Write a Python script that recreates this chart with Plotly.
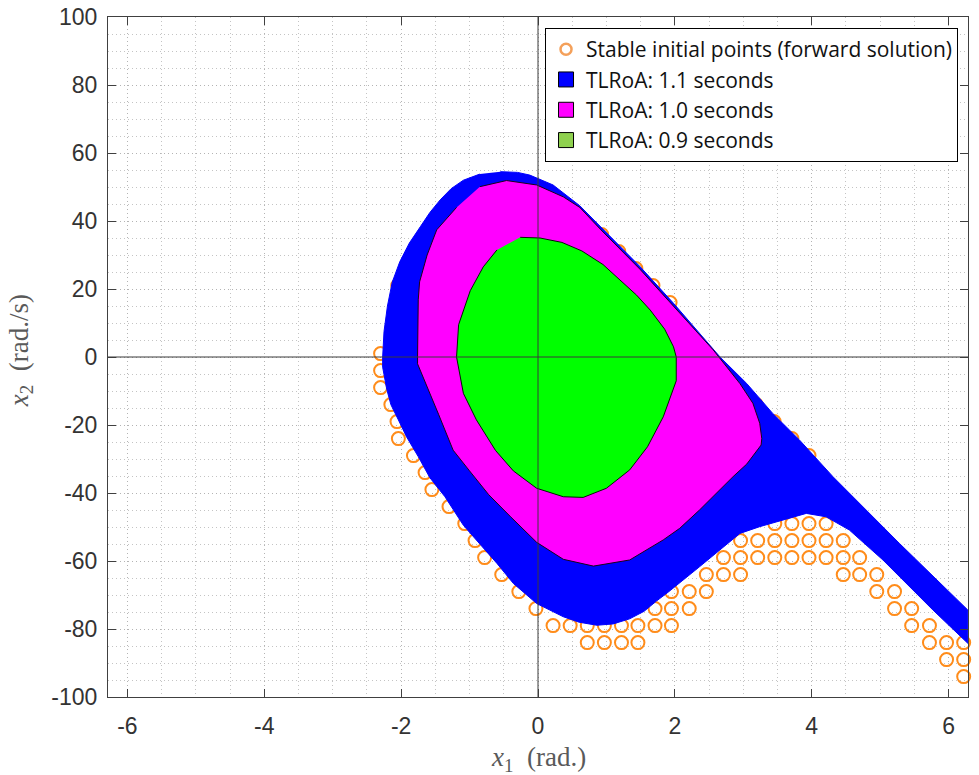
import plotly.graph_objects as go
import math

# ---- data ----
blue_x = [-0.55, -0.3, -0.12, 0.22, 0.61, 0.91, 1.49, 1.98, 2.66, 3.05, 3.43, 3.82, 4.31, 5.28, 6.28,
          6.28, 5.77, 5.04, 4.55, 4.21, 3.92, 3.24, 2.95, 2.36, 2.07, 1.9, 1.73, 1.55, 1.34, 1.1, 0.86, 0.6, 0.37,
          -0.02, -0.36, -0.6, -0.85, -1.09, -1.36, -1.58, -1.75, -1.92, -2.04, -2.15, -2.21, -2.27, -2.27,
          -2.25, -2.2, -2.13, -2.02, -1.88, -1.72, -1.58, -1.43, -1.27, -1.09, -0.85]
blue_y = [54.5, 54.3, 53.5, 50.6, 44.5, 38.3, 26.6, 15.8, 0.0, -7.8, -16.6, -24.4, -35.2, -54.8, -74.4,
          -84.2, -74.4, -59.7, -50.9, -47.0, -46.0, -49.9, -51.9, -61.7, -66.6, -69.2, -71.8, -74.8, -77.0, -78.5, -78.9, -78.0, -76.4,
          -72.5, -66.6, -60.7, -55.0, -49.5, -41.1, -35.5, -29.3, -23.5, -18.5, -14.0, -9.5, -3.0, 0.0,
          7.5, 15.0, 22.0, 28.0, 33.5, 38.3, 42.5, 46.2, 49.5, 52.0, 53.8]

magenta_x = [-0.85, -0.46, -0.02, 0.37, 0.61, 0.91, 1.49, 1.98, 2.56, 2.95, 3.14, 3.24, 3.27,
             3.26, 3.05, 2.85, 2.36, 2.07, 1.83, 1.34, 0.81, 0.37, -0.02, -0.4, -0.72, -1.0,
             -1.24, -1.45, -1.76, -1.76, -1.75, -1.73, -1.62, -1.48, -1.19]
magenta_y = [50.1, 51.9, 50.6, 47.1, 44.0, 37.6, 25.8, 15.0, 2.1, -7.8, -13.6, -19.5, -24.0,
             -25.9, -31.5, -35.2, -45.0, -50.4, -53.8, -59.7, -61.5, -59.5, -54.5, -47.0, -40.5, -33.5,
             -27.4, -17.0, -2.0, 0.0, 16.8, 22.1, 30.0, 37.4, 44.0]

green_x = [-0.26, 0.03, 0.35, 0.64, 0.95, 1.2, 1.44, 1.64, 1.85, 1.98, 2.02, 2.02, 1.83, 1.6, 1.34, 1.0, 0.66,
           0.37, -0.02, -0.36, -0.62, -0.9, -1.09, -1.19, -1.16, -0.99, -0.8, -0.6]
green_y = [35.2, 35.0, 33.7, 31.2, 27.2, 22.6, 18.2, 13.8, 8.2, 3.0, 0.0, -7.0, -17.6, -26.4, -33.2, -38.6, -41.3,
           -41.1, -38.6, -33.5, -27.5, -18.5, -10.7, 0.0, 9.5, 19.5, 26.5, 31.5]

stable_x = [-2.05, -2.30, -2.30, -2.30, -2.15, -2.06, -2.04, -1.82, -1.65, -1.55, -1.30, -1.07,
            -0.92, -0.78, -0.53, -0.28, -0.03,
            0.22, 0.47, 0.72, 0.97, 1.22, 1.46, 1.71, 1.95,
            0.72, 0.97, 1.22, 1.46,
            1.71, 1.95, 2.21,
            1.95, 2.21, 2.46,
            2.46, 2.71, 2.96,
            2.71, 2.96, 3.21, 3.46, 3.71, 3.96, 4.21, 4.46, 4.70,
            2.96, 3.21, 3.46, 3.71, 3.96, 4.21, 4.46,
            3.46, 3.71, 3.96, 4.21,
            4.46, 4.70, 4.95,
            4.95, 5.21,
            5.21, 5.46,
            5.46, 5.72,
            5.72, 5.97, 6.22,
            5.97, 6.22,
            6.22,
            0.93, 1.18, 1.43, 1.68, 1.93, 3.19, 3.45, 3.71, 3.96]
stable_y = [21, 1, -4, -9, -14, -19, -24, -29, -34, -39, -44, -49,
            -54, -59, -64, -69, -74,
            -79, -79, -79, -79, -79, -79, -79, -79,
            -84, -84, -84, -84,
            -74, -74, -74,
            -69, -69, -69,
            -64, -64, -64,
            -59, -59, -59, -59, -59, -59, -59, -59, -59,
            -54, -54, -54, -54, -54, -54, -54,
            -49, -49, -49, -49,
            -64, -64, -64,
            -69, -69,
            -74, -74,
            -79, -79,
            -84, -84, -84,
            -89, -89,
            -94,
            36, 31, 26, 21, 16, -14, -19, -24, -29]

legend_names = ["Stable initial points (forward solution)", "TLRoA: 1.1 seconds",
                "TLRoA: 1.0 seconds", "TLRoA: 0.9 seconds"]

x_tick_vals = [-6, -4, -2, 0, 2, 4, 6]
x_tick_text = ["-6", "-4", "-2", "0", "2", "4", "6"]
y_tick_vals = [-100, -80, -60, -40, -20, 0, 20, 40, 60, 80, 100]
y_tick_text = ["-100", "-80", "-60", "-40", "-20", "0", "20", "40", "60", "80", "100"]

x_title = "<i>x</i><sub>1</sub>\u00a0\u00a0(rad.)"
y_title = "<i>x</i><sub>2</sub>\u00a0\u00a0(rad./s)"

ORANGE = "#FF8C1A"
fig = go.Figure()

fig.add_trace(go.Scatter(x=stable_x, y=stable_y, mode="markers", cliponaxis=False,
                         marker=dict(symbol="circle-open", size=13, color=ORANGE,
                                     line=dict(width=2, color=ORANGE)),
                         showlegend=False, hoverinfo="skip"))
fig.add_trace(go.Scatter(x=blue_x, y=blue_y, fill="toself", fillcolor="#0000FF", mode="lines",
                         line=dict(color="#0000FF", width=1),
                         showlegend=False, hoverinfo="skip"))
fig.add_trace(go.Scatter(x=magenta_x, y=magenta_y, fill="toself", fillcolor="#FF00FF", mode="lines",
                         line=dict(color="#1a001a", width=1), showlegend=False, hoverinfo="skip"))
fig.add_trace(go.Scatter(x=green_x, y=green_y, fill="toself", fillcolor="#00FF00", mode="lines",
                         line=dict(color="#001a00", width=1), showlegend=False, hoverinfo="skip"))

# legend entries
fig.add_trace(go.Scatter(x=[None], y=[None], mode="markers", name=legend_names[0],
                         marker=dict(symbol="circle-open", size=11, color="#F4A05A",
                                     line=dict(width=2.5, color="#F4A05A"))))
for nm, col in zip(legend_names[1:], ["#0000FF", "#FF00FF", "#8FD14F"]):
    fig.add_trace(go.Scatter(x=[None], y=[None], mode="markers", name=nm,
                             marker=dict(symbol="square", size=15, color=col,
                                         line=dict(width=1, color="#000000"))))

two_pi = 2 * math.pi
axis_common = dict(showline=True, linecolor="#404040", linewidth=1, mirror="ticks",
                   ticks="inside", ticklen=8, tickcolor="#404040", automargin=False,
                   ticklabeloverflow="allow",
                   showgrid=True, gridcolor="#b4b4b4", griddash="1px,3px", gridwidth=1,
                   zeroline=False,
                   tickfont=dict(family="Liberation Sans", size=23, color="#333333"))
title_font = dict(family="Liberation Serif", size=27, color="#5a5a5a")

fig.update_xaxes(range=[-two_pi, two_pi], tickmode="array", tickvals=x_tick_vals, ticktext=x_tick_text,
                 ticklabelstandoff=8,
                 minor=dict(dtick=0.5, tick0=0, showgrid=True, gridcolor="#c4c4c4", griddash="1px,3px", ticks=""),
                 **axis_common)
fig.update_yaxes(range=[-100, 100], tickmode="array", tickvals=y_tick_vals, ticktext=y_tick_text,
                 ticklabelstandoff=5,
                 minor=dict(dtick=5, tick0=0, showgrid=True, gridcolor="#c4c4c4", griddash="1px,3px", ticks=""),
                 **axis_common)

# axis titles
fig.add_annotation(text=x_title, xref="paper", yref="paper", x=0.5, y=-0.091,
                   xanchor="center", yanchor="middle", showarrow=False, font=title_font)
fig.add_annotation(text=y_title, xref="paper", yref="paper", x=-0.1012, y=0.51, textangle=-90,
                   xanchor="center", yanchor="middle", showarrow=False, font=title_font)

# axes cross lines at x=0 and y=0
fig.add_shape(type="line", xref="x", yref="paper", x0=0, x1=0, y0=0, y1=1,
              line=dict(color="#3a3a3a", width=1), layer="above")
fig.add_shape(type="line", xref="paper", yref="y", x0=0, x1=1, y0=0, y1=0,
              line=dict(color="#3a3a3a", width=1), layer="above")

fig.update_layout(width=979, height=775, margin=dict(l=108, r=11, t=17, b=78),
                  plot_bgcolor="white", paper_bgcolor="white",
                  legend=dict(x=0.9884, y=0.9838, xanchor="right", yanchor="top",
                              bgcolor="white", bordercolor="#000000", borderwidth=1,
                              font=dict(family="Open Sans", size=21, color="#111111"),
                              tracegroupgap=0, itemsizing="trace"))

fig.write_html("out.html", config={"displayModeBar": False},
               post_script="document.body.style.margin='0px';")
